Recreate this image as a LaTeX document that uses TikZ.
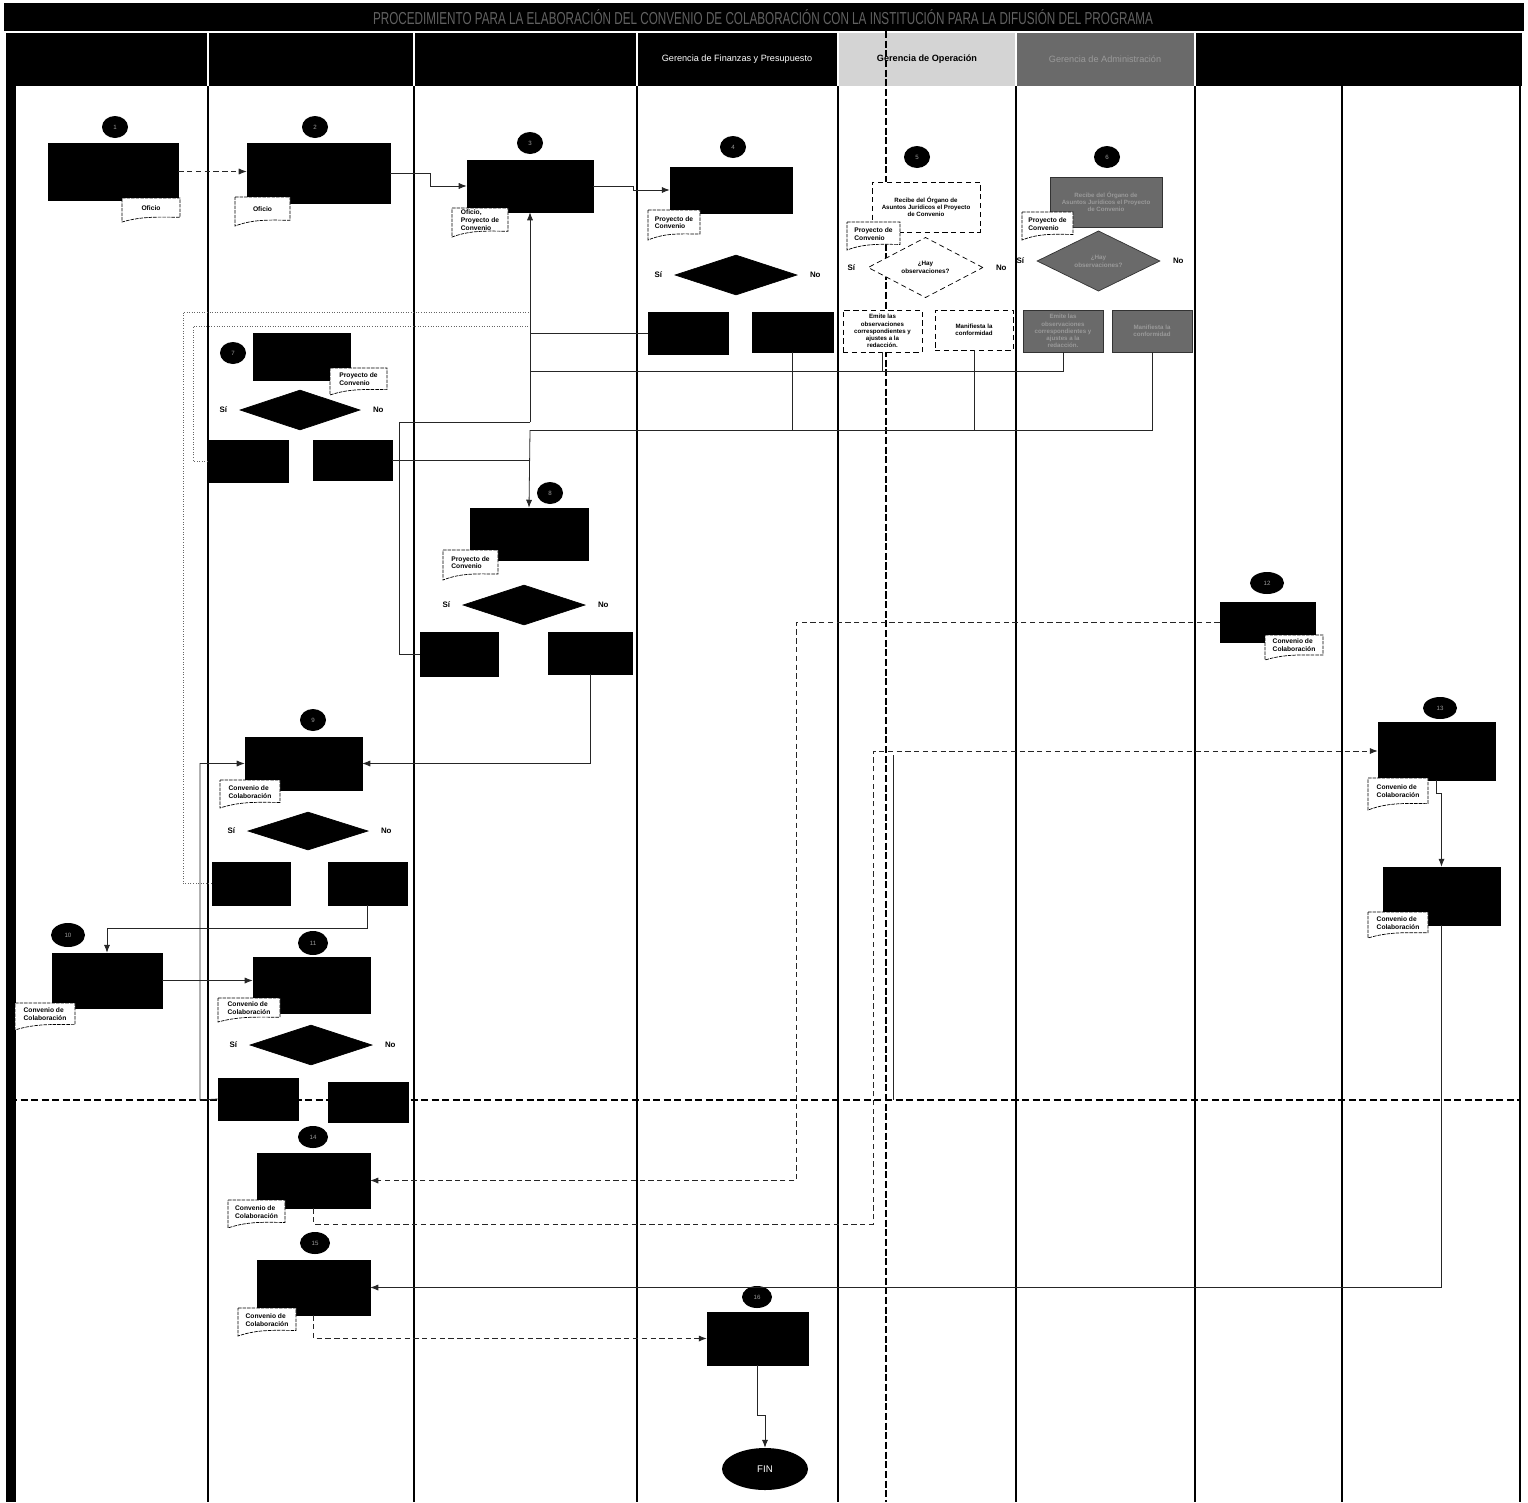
\documentclass[tikz,border=0pt]{standalone}
\usepackage{fontspec}
\setmainfont{Liberation Sans}
\usepackage{graphicx}
\usepackage{tikz}
\usetikzlibrary{positioning,shapes.geometric,arrows.meta}
\definecolor{opgray}{HTML}{D4D4D4}
\definecolor{admgray}{HTML}{6A6A6A}
\definecolor{inkgray}{HTML}{9A9A9A}

\begin{document}
\begin{tikzpicture}[x=0.02cm, y=-0.02cm,
  sz/.style 2 args={minimum width=#1*0.02cm, minimum height=#2*0.02cm},
  proc/.style={rectangle, draw=black, fill=black, inner sep=0pt},
  openbox/.style={rectangle, draw=black, densely dashed, fill=white, inner sep=1pt, align=center, font=\fontsize{3.5}{4.1}\selectfont\bfseries},
  admbox/.style={rectangle, draw=black!80, fill=admgray, inner sep=1pt, align=center, text=inkgray, font=\fontsize{3.5}{4.1}\selectfont\bfseries},
  ask/.style={diamond, draw=black, fill=black, inner sep=0pt},
  openask/.style={diamond, draw=black, densely dashed, fill=white, inner sep=0pt, align=center, font=\fontsize{3.6}{4.4}\selectfont\bfseries},
  admask/.style={diamond, draw=black!80, fill=admgray, inner sep=0pt, align=center, text=inkgray, font=\fontsize{3.6}{4.4}\selectfont\bfseries},
  num/.style={ellipse, fill=black, inner sep=0pt, text=inkgray, font=\fontsize{3.5}{3.5}\selectfont},
  yn/.style={font=\fontsize{4.5}{4.5}\selectfont\bfseries, inner sep=0pt},
  doctext/.style={align=left, inner sep=0pt, font=\fontsize{3.8}{4.5}\selectfont\bfseries},
  docline/.style={draw=black, dash pattern=on 2pt off 0.6pt, line width=0.4pt, fill=white},
  hdr/.style={font=\fontsize{5.2}{5.2}\selectfont, inner sep=0pt},
  lane/.style={draw=black, line width=0.9pt},
  link/.style={draw=black!85, line width=0.45pt},
  dotlink/.style={link, densely dashed},
  backlink/.style={link, draw=black!60, densely dotted},
  flow/.style={link, -{Latex[length=4.5pt,width=3.5pt]}},
  dotflow/.style={dotlink, -{Latex[length=4.5pt,width=3.5pt]}},
]
\useasboundingbox (0,0) rectangle (1528,1502);
% title bar and lane headers
\fill[black] (4,3) rectangle (1524,31);
\node[text=black!62, inner sep=0pt] (title) at (763,17)
  {\resizebox{15.6cm}{0.3cm}{PROCEDIMIENTO PARA LA ELABORACIÓN DEL CONVENIO DE COLABORACIÓN CON LA INSTITUCIÓN PARA LA DIFUSIÓN DEL PROGRAMA}};
\foreach \xa/\xb/\c in {10/207/black, 209/413/black, 415/636/black, 638/837/black,
                        839/1015/opgray, 1017/1194/admgray, 1196/1522/black} {
  \fill[\c] (\xa,33) rectangle (\xb,86);
}
\node[hdr, text=white] (h4) at (737,59) {Gerencia de Finanzas y Presupuesto};
\node[hdr, font=\fontsize{5.2}{5.2}\selectfont\bfseries] (h5) at (927,59) {Gerencia de Operación};
\node[hdr, text=inkgray] (h6) at (1105,59) {Gerencia de Administración};
% swim lanes
\fill[black] (6,33) rectangle (16,1502);
\foreach \x in {208,414,637,838,1016,1195,1342,1520} {
  \draw[lane] (\x,86) -- (\x,1502);
}
% page cuts of the scan
\draw[line width=1.3pt, dash pattern=on 4pt off 1.5pt] (886,31) -- (886,1502);
\draw[line width=0.8pt, dash pattern=on 4pt off 2pt] (10,1100) -- (1520,1100);
\draw[link] (893,755) -- (893,1100);

% steps
\node[proc, sz={130}{57}] (s1) at (113,171.5) {};
\node[num, sz={26}{22}] (n1) at (115,127) {1};
\node[proc, sz={143}{60}] (s2) at (318.5,173) {};
\node[num, sz={26}{22}] (n2) at (315,127) {2};
\node[proc, sz={126}{52}] (s3) at (530,186) {};
\node[num, sz={26}{22}] (n3) at (530,143) {3};
\node[proc, sz={122}{46}] (s4) at (731,190) {};
\node[num, sz={26}{22}] (n4) at (733,147) {4};
\node[ask, sz={122}{40}] (q4) at (736,275) {};
\node[proc, sz={80}{42}] (S4) at (688,333) {};
\node[proc, sz={81}{40}] (N4) at (792.5,332) {};

\node[openbox, sz={108}{50}] (s5) at (926,207) {Recibe del Órgano de\\Asuntos Jurídicos el Proyecto\\de Convenio};
\node[num, sz={26}{22}] (n5) at (917,157) {5};
\node[openask, sz={115}{41}] (q5) at (925.5,267.5) {¿Hay\\observaciones?};
\node[openbox, sz={79}{42}] (S5) at (882.5,331) {Emite las\\observaciones\\correspondientes y\\ajustes a la\\redacción.};
\node[openbox, sz={78}{40}] (N5) at (974,330) {Manifiesta la\\conformidad};

\node[admbox, sz={112}{50}] (s6) at (1106,202) {Recibe del Órgano de\\Asuntos Jurídicos el Proyecto\\de Convenio};
\node[num, sz={26}{22}] (n6) at (1107,157) {6};
\node[admask, sz={123}{42}] (q6) at (1098.5,261) {¿Hay\\observaciones?};
\node[admbox, sz={80}{42}] (S6) at (1063,331) {Emite las\\observaciones\\correspondientes y\\ajustes a la\\redacción.};
\node[admbox, sz={80}{42}] (N6) at (1152,331) {Manifiesta la\\conformidad};

\node[proc, sz={97}{47}] (s7) at (301.5,356.5) {};
\node[num, sz={26}{22}] (n7) at (233,353) {7};
\node[ask, sz={120}{40}] (q7) at (300,410) {};
\node[proc, sz={80}{42}] (S7) at (248,461) {};
\node[proc, sz={79}{40}] (N7) at (352.5,460) {};

\node[proc, sz={118}{52}] (s8) at (529,534) {};
\node[num, sz={26}{22}] (n8) at (550,493) {8};
\node[ask, sz={122}{40}] (q8) at (524,605) {};
\node[proc, sz={78}{44}] (S8) at (459,654) {};
\node[proc, sz={84}{42}] (N8) at (590,653) {};

\node[proc, sz={117}{53}] (s9) at (303.5,763.5) {};
\node[num, sz={26}{22}] (n9) at (313,720) {9};
\node[ask, sz={120}{38}] (q9) at (308,831) {};
\node[proc, sz={78}{43}] (S9) at (251,883.5) {};
\node[proc, sz={79}{43}] (N9) at (367.5,883.5) {};

\node[proc, sz={110}{55}] (s10) at (107,980.5) {};
\node[num, sz={34}{24}] (n10) at (68,935) {10};
\node[proc, sz={117}{56}] (s11) at (311.5,985) {};
\node[num, sz={30}{24}] (n11) at (313,943) {11};
\node[ask, sz={122}{40}] (q11) at (311,1045) {};
\node[proc, sz={80}{42}] (S11) at (258,1099) {};
\node[proc, sz={80}{40}] (N11) at (368,1102) {};

\node[proc, sz={95}{40}] (s12) at (1267.5,622) {};
\node[num, sz={34}{22}] (n12) at (1267,583) {12};
\node[proc, sz={117}{58}] (s13) at (1436.5,751) {};
\node[num, sz={34}{22}] (n13) at (1440,708) {13};
\node[proc, sz={117}{58}] (s13b) at (1441.5,896) {};
\node[proc, sz={113}{55}] (s14) at (313.5,1180.5) {};
\node[num, sz={30}{22}] (n14) at (313,1137) {14};
\node[proc, sz={113}{55}] (s15) at (313.5,1287.5) {};
\node[num, sz={30}{22}] (n15) at (315,1243) {15};
\node[proc, sz={101}{53}] (s16) at (757.5,1338.5) {};
\node[num, sz={30}{22}] (n16) at (757,1297) {16};
\node[ellipse, fill=black, text=white, sz={86}{42}, inner sep=0pt, font=\fontsize{5.5}{5.5}\selectfont] (fin) at (765,1469) {FIN};

% Sí / No labels
\foreach \q in {q4,q5,q6,q7,q8,q9,q11} {
  \node[yn, left=7pt of \q] {Sí};
  \node[yn, right=7pt of \q] {No};
}

% documents
\foreach \nm/\x/\y/\w/\h/\txt in {
  d1/151/210/58/24/{Oficio},
  d2/262.5/211.5/55/29/{Oficio},
  d3/480/222.5/56/29/{Oficio,\\Proyecto de\\Convenio},
  d4/674/225/52/30/{Proyecto de\\Convenio},
  d5/873.5/236/53/28/{Proyecto de\\Convenio},
  d6/1047.5/226/51/28/{Proyecto de\\Convenio},
  d7/358.5/381.5/57/27/{Proyecto de\\Convenio},
  d8/470.5/565/55/30/{Proyecto de\\Convenio},
  d9/250/794/60/28/{Convenio de\\Colaboración},
  d10/45/1016.5/60/27/{Convenio de\\Colaboración},
  d11/249/1010/62/24/{Convenio de\\Colaboración},
  d12/1294/647.5/58/25/{Convenio de\\Colaboración},
  d13/1398/794/60/32/{Convenio de\\Colaboración},
  d14/1398/925/60/26/{Convenio de\\Colaboración},
  d15/256.5/1214/57/28/{Convenio de\\Colaboración},
  d16/267/1322/58/28/{Convenio de\\Colaboración}%
} {
  \path[docline] (\x-\w/2,\y-\h/2) -- ++(\w,0) -- ++(0,0.8*\h)
    .. controls +(-0.35*\w,0) and +(0.35*\w,-0.25*\h) .. (\x-\w/2,\y+\h/2) -- cycle;
  \node[doctext] (\nm) at (\x,\y-0.08*\h) {\txt};
}

% junctions on the return line to step 3
\coordinate (j5) at (530,312);
\coordinate (j4) at (530,326);
\coordinate (j2) at (530,371);
\coordinate (j1) at (530,422);
\coordinate (j3) at (530,430);
\coordinate (l9) at (183,312);
\coordinate (l7) at (193,326);
\coordinate (l11) at (200,1100);
\coordinate (k14) at (873,1224);

% connectors
\draw[dotflow] (s1.east) -- (s1.east -| s2.west);
\draw[flow] (s2.east) -- ++(40,0) |- (s3.west);
\draw[flow] (s3.east) -- ++(40,0) |- (s4.west);
\draw[link] (S4.west) -- (S4.west -| j1);
\draw[link] (S5.south) -- (S5.south |- j2);
\draw[link] (S6.south) |- (j2);
\draw[link] (N4.south) -- (N4.south |- j3);
\draw[link] (N5.south) -- (N5.south |- j3);
\draw[link] (N6.south) |- (j3);
\draw[link] (N7.east) -- (N7.east -| j3);
\draw[flow] (j3) -- (s8.north);
\draw[backlink] (S7.west) -| (l7) -- (j4);
\draw[backlink] (S9.west) -| (l9) -- (j5);
\draw[link] (S8.west) -- ++(-20,0) |- (j1);
\draw[flow] (j1) -- (s3.south);
\draw[flow] (N8.south) |- (s9.east);
\draw[flow] (S11.west) -- (l11) |- (s9.west);
\draw[flow] (N9.south) -- ++(0,23) -| (s10.north);
\draw[flow] (s10.east) -- (s10.east -| s11.west);
\draw[dotflow] (s12.west) -- ++(-423,0) |- (s14.east);
\draw[dotflow] (s14.south) |- (k14) |- (s13.west);
\draw[flow] (s13.south) -- ++(0,13) -| (s13b.north);
\draw[flow] (s13b.south) |- (s15.east);
\draw[dotflow] (s15.south) |- (s16.west);
\draw[flow] (s16.south) -- ++(0,50) -| (fin.north);
\end{tikzpicture}
\end{document}
